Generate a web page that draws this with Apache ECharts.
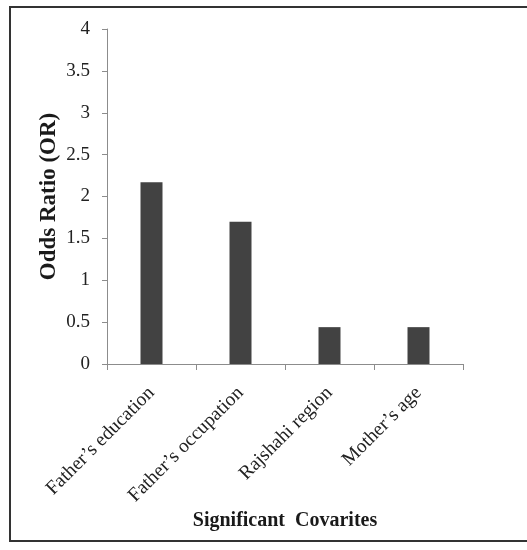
<!DOCTYPE html>
<html>
<head>
<meta charset="utf-8">
<script src="https://cdn.jsdelivr.net/npm/echarts@6/dist/echarts.min.js"></script>
<style>
  html, body { margin: 0; padding: 0; background: #fff; }
  #chart { width: 527px; height: 550px; }
</style>
</head>
<body>
<div id="chart"></div>
<script>
// Covariates and their odds ratios
const categories = ["Father\u2019s education", "Father\u2019s occupation", "Rajshahi region", "Mother\u2019s age"];
const oddsRatios = [2.17, 1.70, 0.44, 0.44];
const yTicks = [0, 0.5, 1, 1.5, 2, 2.5, 3, 3.5, 4];

const serif = "'Liberation Serif', 'Times New Roman', serif";
const chart = echarts.init(document.getElementById('chart'));

chart.setOption({
  backgroundColor: '#fff',
  animation: false,
  graphic: [{
    type: 'rect',
    shape: { x: 10, y: 7, width: 540, height: 534 },
    style: { fill: 'none', stroke: '#333', lineWidth: 2 },
    silent: true
  }],
  grid: { left: 107, right: 64, top: 29, bottom: 186 },
  xAxis: {
    type: 'category',
    data: categories,
    name: 'Significant  Covarites',
    nameLocation: 'middle',
    nameGap: 147,
    nameMoveOverlap: false,
    nameTextStyle: { fontFamily: serif, fontSize: 20, fontWeight: 'bold', color: '#1a1a1a' },
    axisLine: { lineStyle: { color: '#8c8c8c', width: 1 } },
    axisTick: { show: true, alignWithLabel: false, length: 6, lineStyle: { color: '#8c8c8c' } },
    axisLabel: { rotate: 45, fontFamily: serif, fontSize: 19.5, color: '#222', margin: 26, interval: 0 }
  },
  yAxis: {
    type: 'value',
    min: yTicks[0],
    max: yTicks[yTicks.length - 1],
    interval: 0.5,
    name: 'Odds Ratio (OR)',
    nameLocation: 'middle',
    nameGap: 46,
    nameMoveOverlap: false,
    nameTextStyle: { fontFamily: serif, fontSize: 23, fontWeight: 'bold', color: '#1a1a1a' },
    axisLine: { show: true, lineStyle: { color: '#8c8c8c', width: 1 } },
    axisTick: { show: true, length: 5, lineStyle: { color: '#8c8c8c' } },
    axisLabel: { fontFamily: serif, fontSize: 19, color: '#222', margin: 17 },
    splitLine: { show: false }
  },
  series: [{
    type: 'bar',
    data: oddsRatios,
    barWidth: 22,
    itemStyle: { color: '#424242' }
  }]
});
</script>
</body>
</html>
